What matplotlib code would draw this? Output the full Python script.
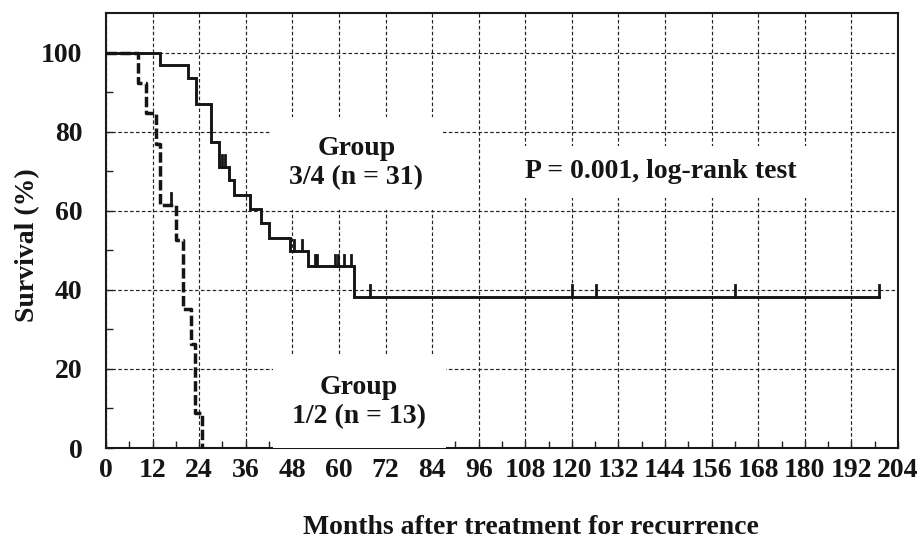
import numpy as np
import matplotlib
matplotlib.use('Agg')
import matplotlib.pyplot as plt

# ---- data ----
g34_times = [13.9, 21.2, 23.1, 27.1, 29.2, 31.8, 33.0, 37.1, 39.8, 42.1, 47.4, 52.0, 64.0]
g34_surv = [96.8, 93.5, 87.1, 77.4, 71.0, 67.7, 63.9, 60.4, 56.8, 53.2, 49.7, 45.9, 38.2]
g34_censor = [30.0, 30.7, 48.4, 50.4, 53.8, 54.4, 59.1, 59.8, 61.4, 63.0,
              68.1, 120.0, 126.1, 161.9, 199.0]

g12_times = [8.2, 10.2, 12.9, 13.9, 18.0, 19.9, 21.8, 22.9, 24.7]
g12_surv = [92.3, 84.6, 76.9, 61.5, 52.7, 35.1, 26.3, 8.8, 0.0]
g12_censor = [16.7]

x_ticks = list(range(0, 205, 12))
y_ticks = [0, 20, 40, 60, 80, 100]

plt.rcParams['font.family'] = ['Liberation Serif', 'DejaVu Serif']
plt.rcParams['font.weight'] = 'bold'

fig = plt.figure(figsize=(9.22, 5.41), dpi=100)
ax = fig.add_axes([106/922, 1-448/541, 792/922, 435/541])


def km_arrays(times, surv, end):
    t = [0.0] + list(times)
    s = [100.0] + list(surv)
    if end is not None and end > t[-1]:
        t.append(end)
        s.append(s[-1])
    return np.array(t), np.array(s)


def surv_at(times, surv, x):
    idx = np.searchsorted(np.array(times), x, side='right')
    vals = [100.0] + list(surv)
    return vals[idx]


t34, s34 = km_arrays(g34_times, g34_surv, max(g34_censor))
t12, s12 = km_arrays(g12_times, g12_surv, None)

ink = '#151515'
ax.step(t34, s34, where='post', color=ink, lw=2.1, zorder=4,
        solid_joinstyle='miter')
ax.step(t12, s12, where='post', color=ink, lw=2.5, zorder=4,
        linestyle=(0, (3.0, 1.0)))

tick_h = 3.0
for c in g34_censor:
    y = surv_at(g34_times, g34_surv, c)
    ax.plot([c, c], [y, y + tick_h], color=ink, lw=2.0, zorder=4)
for c in g12_censor:
    y = surv_at(g12_times, g12_surv, c)
    ax.plot([c, c], [y, y + tick_h], color=ink, lw=2.0, zorder=4)

ax.set_xlim(0, 204)
ax.set_ylim(0, 110)
ax.set_xticks(x_ticks)
ax.set_xticklabels([str(v) for v in x_ticks])
ax.set_yticks(y_ticks)
ax.set_yticklabels([str(v) for v in y_ticks])
ax.set_xticks(np.arange(6, 204, 12), minor=True)
ax.set_yticks(np.arange(10, 110, 20), minor=True)

ax.grid(True, which='major', color='#222222', lw=0.85, linestyle=(0, (3, 2)), zorder=0.5)
ax.set_axisbelow(True)

ax.tick_params(axis='both', which='both', direction='in', color='#222222', width=1.0)
ax.tick_params(axis='both', which='major', length=5)
ax.tick_params(axis='both', which='minor', length=5)
ax.tick_params(axis='x', which='major', labelsize=20, pad=7, labelcolor=ink)
ax.tick_params(axis='y', which='major', labelsize=20, pad=17, labelcolor=ink)

for sp in ax.spines.values():
    sp.set_color('#1a1a1a')
    sp.set_linewidth(1.5)

txt_kw = dict(fontsize=20, fontweight='bold', ha='center', va='center',
              multialignment='center', color=ink, zorder=3)
ax.text(64.5, 72.0, 'Group\n3/4 (n = 31)',
        bbox=dict(boxstyle='square,pad=0.7', fc='white', ec='none'), **txt_kw)
ax.text(65.2, 11.6, 'Group\n1/2 (n = 13)',
        bbox=dict(boxstyle='square,pad=0.7', fc='white', ec='none'), **txt_kw)
ax.text(143.0, 69.8, 'P = 0.001, log-rank test',
        bbox=dict(boxstyle='square,pad=0.5', fc='white', ec='none'), **txt_kw)

fig.text(530.5/922, 1-534/541, 'Months after treatment for recurrence',
         fontsize=20, fontweight='bold', ha='center', va='baseline', color=ink)
fig.text(28/922, 1-245/541, 'Survival (%)', rotation=90,
         fontsize=20, fontweight='bold', ha='center', va='center', color=ink)

fig.savefig('out.png', dpi=100)
